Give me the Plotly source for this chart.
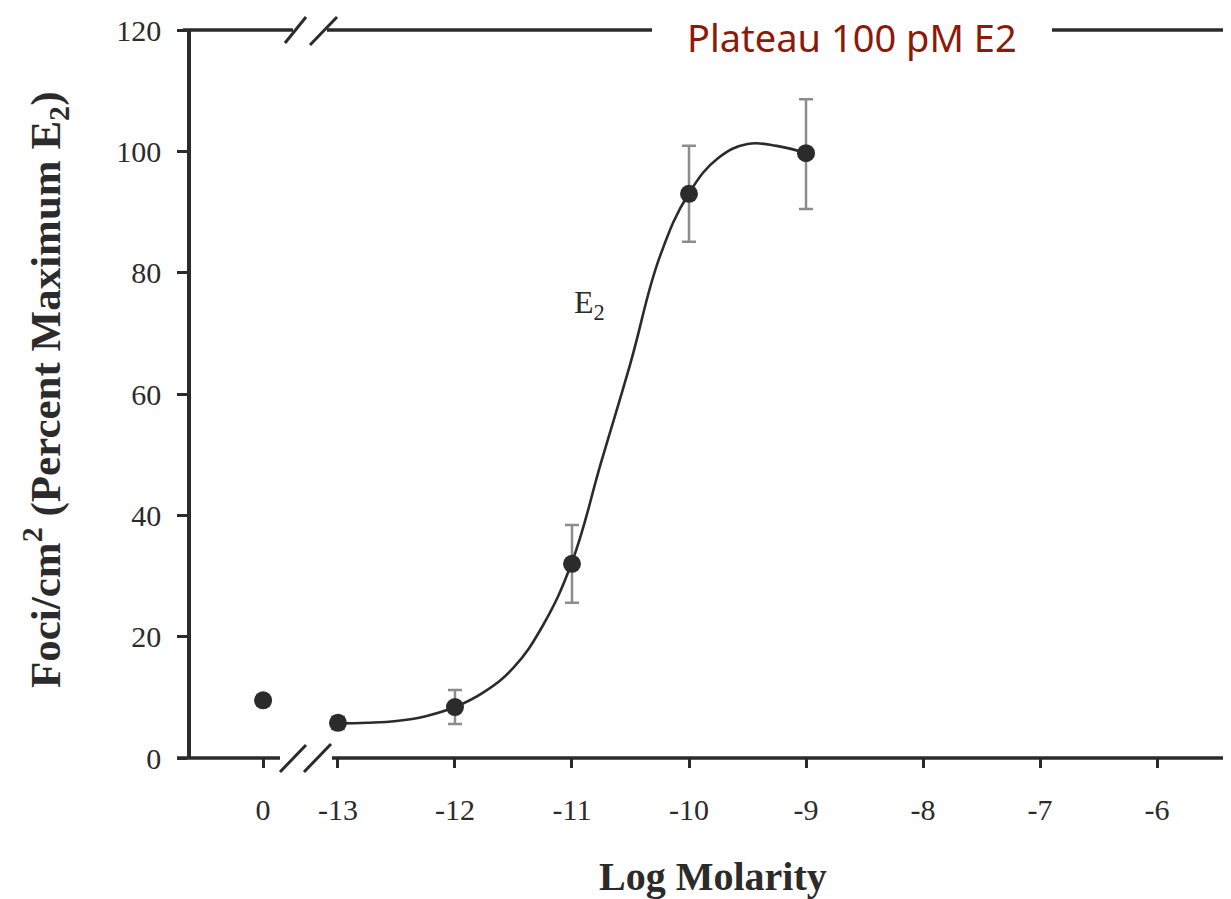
import plotly.graph_objects as go

# ---------------- data ----------------
CONTROL_POS = -13.64          # axis slot used for the "0" (vehicle) dose
tick_vals = [CONTROL_POS, -13, -12, -11, -10, -9, -8, -7, -6]
tick_text = ["0", "-13", "-12", "-11", "-10", "-9", "-8", "-7", "-6"]
y_ticks = [0, 20, 40, 60, 80, 100, 120]

point_x = [CONTROL_POS, -13, -12, -11, -10, -9]
point_y = [9.5, 5.8, 8.4, 32.0, 93.0, 99.7]
err_up = [0.9, 1.0, 2.8, 6.4, 7.9, 8.9]
err_down = [0.9, 1.0, 2.8, 6.4, 7.9, 9.2]

curve_x = [-13.0, -12.75, -12.5, -12.25, -12.0, -11.75, -11.5, -11.25, -11.0,
           -10.75, -10.5, -10.25, -10.0, -9.75, -9.5, -9.25, -9.0]
curve_y = [5.7, 5.8, 6.1, 6.9, 8.4, 10.9, 14.9, 21.8, 32.3,
           48.8, 65.1, 82.6, 93.1, 98.9, 101.2, 100.9, 99.7]

# ---------------- layout geometry ----------------
OFF = 8                      # page body margin of the browser
W, H = 1231 - OFF, 899 - OFF
ML, MR, MT, MB = 191 - OFF, 2, 30 - OFF, 141
PW, PH = W - ML - MR, H - MT - MB
XMIN, XMAX = -14.256, -5.385
INK = "#2b2b2b"
SERIF = "Liberation Serif, Times New Roman, serif"


def px(xpix):
    return (xpix - OFF - ML) / PW


def py(ypix):
    return (H - MB - (ypix - OFF)) / PH


fig = go.Figure()

fig.add_trace(go.Scatter(
    x=curve_x, y=curve_y, mode="lines",
    line=dict(color=INK, width=2.6, shape="spline", smoothing=1.2),
    hoverinfo="skip", showlegend=False))

fig.add_trace(go.Scatter(
    x=point_x, y=point_y, mode="markers",
    marker=dict(color=INK, size=18, line=dict(width=0)),
    error_y=dict(type="data", symmetric=False, array=err_up, arrayminus=err_down,
                 color="#8c8c8c", thickness=2.5, width=7),
    showlegend=False))

line_style = dict(color=INK, width=3.5)
shapes = []
# bottom axis with break
for x0, x1 in [(177, 280), (332, 1231)]:
    shapes.append(dict(type="line", xref="paper", yref="paper",
                       x0=px(x0), x1=px(x1), y0=py(758), y1=py(758), line=line_style))
for (x0, y0, x1, y1) in [(280, 772, 306, 745), (304, 772, 331, 744)]:
    shapes.append(dict(type="line", xref="paper", yref="paper",
                       x0=px(x0), y0=py(y0), x1=px(x1), y1=py(y1),
                       line=dict(color=INK, width=3)))
# top frame with break and a gap for the label
for x0, x1 in [(183, 293), (327, 652), (1052, 1231)]:
    shapes.append(dict(type="line", xref="paper", yref="paper",
                       x0=px(x0), x1=px(x1), y0=py(30), y1=py(30), line=line_style))
for (x0, y0, x1, y1) in [(285, 43, 306, 17), (310, 45, 337, 17)]:
    shapes.append(dict(type="line", xref="paper", yref="paper",
                       x0=px(x0), y0=py(y0), x1=px(x1), y1=py(y1),
                       line=dict(color=INK, width=3)))
# faint remnant of the right frame
shapes.append(dict(type="line", xref="paper", yref="paper",
                   x0=px(1229), x1=px(1229), y0=py(680), y1=py(758),
                   line=dict(color="#cfcfcf", width=1.5)))

annotations = [
    dict(text="Plateau 100 pM E2", xref="paper", yref="paper",
         x=px(852), y=py(8.6), xanchor="center", yanchor="top", showarrow=False,
         font=dict(family="Noto Sans, DejaVu Sans, sans-serif", size=38, color="#8b1a0a")),
    dict(text="E<sub>2</sub>", xref="x", yref="y", x=-10.85, y=74.7,
         xanchor="center", yanchor="middle", showarrow=False,
         font=dict(family=SERIF, size=32, color=INK)),
    dict(text="<b>Foci/cm<sup>2</sup> (Percent Maximum E<sub>2</sub>)</b>",
         xref="paper", yref="paper", x=px(45), y=py(390), textangle=-90,
         xanchor="center", yanchor="middle", showarrow=False,
         font=dict(family=SERIF, size=43, color=INK)),
    dict(text="<b>Log Molarity</b>", xref="paper", yref="paper",
         x=px(713), y=py(876), xanchor="center", yanchor="middle", showarrow=False,
         font=dict(family=SERIF, size=40, color=INK)),
]

fig.update_layout(
    width=W, height=H,
    margin=dict(l=ML, r=MR, t=MT, b=MB),
    paper_bgcolor="white", plot_bgcolor="white",
    shapes=shapes, annotations=annotations,
    xaxis=dict(range=[XMIN, XMAX], tickvals=tick_vals, ticktext=tick_text,
               ticks="outside", ticklen=9, tickwidth=3, tickcolor=INK,
               tickfont=dict(family=SERIF, size=30, color=INK),
               ticklabelstandoff=16,
               showline=False, showgrid=False, zeroline=False),
    yaxis=dict(range=[0, 120], tickvals=y_ticks,
               ticks="outside", ticklen=10, tickwidth=3, tickcolor=INK,
               tickfont=dict(family=SERIF, size=30, color=INK),
               ticklabelstandoff=10,
               showline=True, linewidth=3.5, linecolor=INK,
               showgrid=False, zeroline=False),
)

fig.write_html("out.html")
